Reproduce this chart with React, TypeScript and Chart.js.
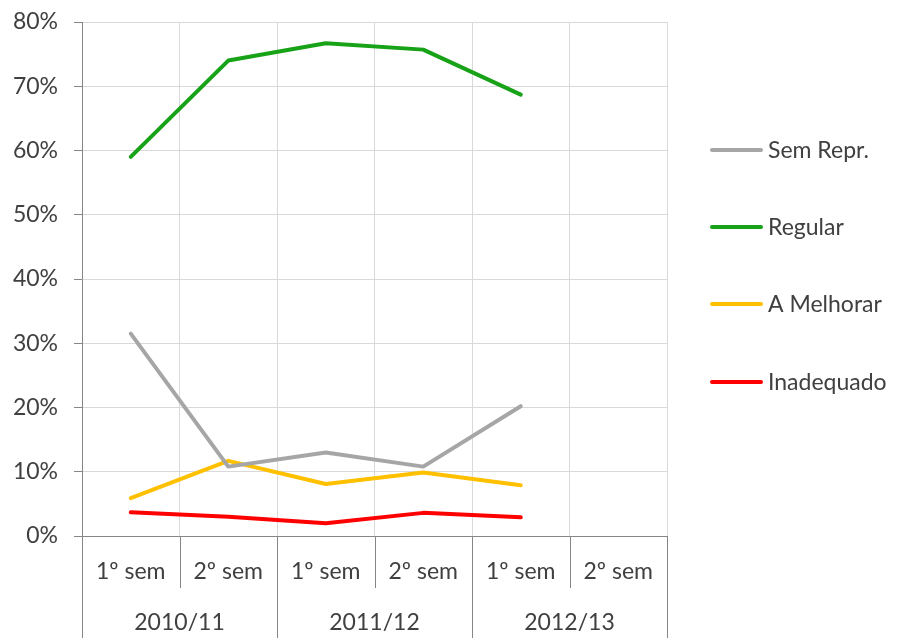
import React, { useEffect, useRef } from "react";
import { Chart, registerables } from "chart.js";

Chart.register(...registerables);

const categories = ["1º sem", "2º sem", "1º sem", "2º sem", "1º sem", "2º sem"];
const groups = ["2010/11", "2011/12", "2012/13"];
const semRepr = [31.5, 10.8, 13.0, 10.8, 20.2, null];
const regular = [59.0, 74.0, 76.7, 75.7, 68.7, null];
const aMelhorar = [5.9, 11.7, 8.1, 9.9, 7.9, null];
const inadequado = [3.7, 3.0, 2.0, 3.6, 2.9, null];
const seriesNames = ["Sem Repr.", "Regular", "A Melhorar", "Inadequado"];
const seriesColors = ["#A6A6A6", "#18A218", "#FFC000", "#FF0000"];

const FONT = "Lato, 'Open Sans', sans-serif";
const FSIZE = 23;
const TEXT = "#404040";
const AXIS = "#868686";
const GRID = "#D9D9D9";

const groupPlugin = {
  id: "groupAxis",
  afterDraw(chart: any) {
    const ctx = chart.ctx;
    const x = chart.scales.x;
    const area = chart.chartArea;
    const n = categories.length;
    const step = (area.right - area.left) / n;
    ctx.save();
    ctx.strokeStyle = AXIS;
    ctx.lineWidth = 1;
    for (let i = 0; i <= n; i++) {
      const px = Math.round(area.left + i * step) + 0.5;
      const isGroup = i % 2 === 0;
      const bottom = isGroup ? chart.height : area.bottom + 52;
      ctx.beginPath();
      ctx.moveTo(px, area.bottom);
      ctx.lineTo(px, bottom);
      ctx.stroke();
    }
    ctx.fillStyle = TEXT;
    ctx.font = FSIZE + "px " + FONT;
    ctx.textAlign = "center";
    ctx.textBaseline = "middle";
    groups.forEach((g, gi) => {
      const cx = (x.getPixelForValue(gi * 2) + x.getPixelForValue(gi * 2 + 1)) / 2;
      ctx.fillText(g, cx, area.bottom + 87);
    });
    // legend
    const ys = [150, 227, 304, 382];
    chart.data.datasets.forEach((ds: any, i: number) => {
      ctx.strokeStyle = ds.borderColor;
      ctx.lineWidth = 4;
      ctx.lineCap = "round";
      ctx.beginPath();
      ctx.moveTo(712, ys[i]);
      ctx.lineTo(761, ys[i]);
      ctx.stroke();
      ctx.fillStyle = TEXT;
      ctx.textAlign = "left";
      ctx.fillText(ds.label, 768, ys[i] + 1);
    });
    ctx.restore();
  },
};

export default function App() {
  const ref = useRef<HTMLCanvasElement>(null);
  useEffect(() => {
    document.body.style.margin = "0";
    const seriesData = [semRepr, regular, aMelhorar, inadequado];
    const chart = new Chart(ref.current!, {
      type: "line",
      data: {
        labels: categories,
        datasets: seriesNames.map((name, i) => ({
          label: name,
          data: seriesData[i],
          borderColor: seriesColors[i],
          backgroundColor: seriesColors[i],
          borderWidth: 4,
          pointRadius: 0,
          borderJoinStyle: "round",
          borderCapStyle: "round",
          tension: 0,
        })),
      },
      options: {
        responsive: false,
        animation: false,
        layout: { padding: { left: 0, top: 22, right: 232, bottom: 0 } },
        plugins: { legend: { display: false }, tooltip: { enabled: false } },
        scales: {
          x: {
            offset: true,
            grid: { offset: true, color: GRID, drawTicks: false },
            border: { color: AXIS },
            ticks: {
              color: TEXT,
              font: { family: FONT, size: FSIZE },
              padding: 22,
              maxRotation: 0,
              autoSkip: false,
            },
            afterFit: (s: any) => {
              s.height = 102;
              s.paddingLeft = 0;
              s.paddingRight = 0;
            },
          },
          y: {
            min: 0,
            max: 80,
            grid: { color: GRID, tickColor: AXIS, tickLength: 8 },
            border: { color: AXIS },
            ticks: {
              stepSize: 10,
              color: TEXT,
              font: { family: FONT, size: FSIZE },
              padding: 16,
              callback: (v: any) => v + "%",
            },
            afterFit: (s: any) => {
              s.width = 82;
              s.paddingTop = 0;
              s.paddingBottom = 0;
            },
          },
        },
      },
      plugins: [groupPlugin],
    } as any);
    return () => chart.destroy();
  }, []);
  return (
    <div style={{ position: "absolute", left: 0, top: 0, width: 899, height: 638 }}>
      <canvas ref={ref} width={899} height={638} style={{ width: 899, height: 638 }} />
    </div>
  );
}
